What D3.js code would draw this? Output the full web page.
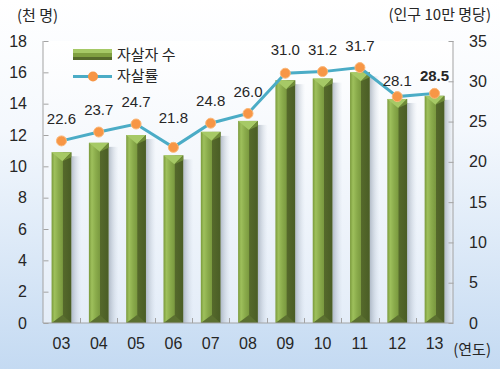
<!DOCTYPE html>
<html>
<head>
<meta charset="utf-8">
<script src="https://cdn.jsdelivr.net/npm/d3@7"></script>
<style>
  html, body { margin: 0; padding: 0; overflow: hidden; }
  svg { display: block; overflow: visible; }
  svg text { font-family: "Liberation Sans", Arial, "Noto Sans CJK KR", sans-serif; fill: #262626; }
  .kr { font-family: "Noto Sans CJK KR", "Liberation Sans", sans-serif; }
</style>
</head>
<body>
<svg id="chart" width="500" height="369"></svg>
<script>
const years = ["03", "04", "05", "06", "07", "08", "09", "10", "11", "12", "13"];
const suicides = [10.9, 11.5, 12.0, 10.7, 12.2, 12.9, 15.5, 15.6, 16.0, 14.3, 14.5]; // thousand persons
const rates = [22.6, 23.7, 24.7, 21.8, 24.8, 26.0, 31.0, 31.2, 31.7, 28.1, 28.5];   // per 100k
const leftTicks = [0, 2, 4, 6, 8, 10, 12, 14, 16, 18];
const rightTicks = [0, 5, 10, 15, 20, 25, 30, 35];
// small nudges for the value labels (px above the point)
const labelLift = [22, 22, 22, 30, 22, 22, 23, 22, 22, 16, 18];

const svg = d3.select("#chart");
const width = +svg.attr("width");
const height = +svg.attr("height");
const margin = { top: 41, right: 47, bottom: 46, left: 43 };
const innerWidth = width - margin.left - margin.right;
const innerHeight = height - margin.top - margin.bottom;

const defs = svg.append("defs");

const bgGrad = defs.append("linearGradient").attr("id", "bg").attr("x1", 0).attr("y1", 0).attr("x2", 0).attr("y2", 1);
bgGrad.append("stop").attr("offset", "0%").attr("stop-color", "#ffffff");
bgGrad.append("stop").attr("offset", "35%").attr("stop-color", "#f4f8fd");
bgGrad.append("stop").attr("offset", "100%").attr("stop-color", "#c4daf2");

const plotGrad = defs.append("linearGradient").attr("id", "plotbg").attr("x1", 0).attr("y1", 0).attr("x2", 0).attr("y2", 1);
plotGrad.append("stop").attr("offset", "0%").attr("stop-color", "#ffffff");
plotGrad.append("stop").attr("offset", "100%").attr("stop-color", "#e4edf8");

const barGrad = defs.append("linearGradient").attr("id", "bar").attr("x1", 0).attr("y1", 0).attr("x2", 1).attr("y2", 0);
[["0%", "#7a9a3c"], ["15%", "#9ec05c"], ["35%", "#8aab4b"], ["55%", "#7b9a40"], ["58%", "#55692b"], ["100%", "#4a5d25"]]
  .forEach(([o, c]) => barGrad.append("stop").attr("offset", o).attr("stop-color", c));

const shadowGrad = defs.append("linearGradient").attr("id", "shadow").attr("x1", 0).attr("y1", 0).attr("x2", 1).attr("y2", 0);
shadowGrad.append("stop").attr("offset", "0%").attr("stop-color", "#8a96a6").attr("stop-opacity", 0.6);
shadowGrad.append("stop").attr("offset", "100%").attr("stop-color", "#c8d2de").attr("stop-opacity", 0);

svg.append("rect").attr("width", width).attr("height", height).attr("fill", "url(#bg)");

const g = svg.append("g").attr("transform", `translate(${margin.left},${margin.top})`);

g.append("rect").attr("width", innerWidth).attr("height", innerHeight).attr("fill", "url(#plotbg)");

const x = d3.scaleBand().domain(years).range([0, innerWidth]).paddingInner(0.47).paddingOuter(0.23);
const yL = d3.scaleLinear().domain([0, 18]).range([innerHeight, 0]);
const yR = d3.scaleLinear().domain([0, 35]).range([innerHeight, 0]);
const step = x.step();

// bars
const bw = x.bandwidth();
const bars = g.selectAll(".bar").data(years.map((yr, i) => ({ yr, v: suicides[i] }))).join("g").attr("class", "bar");

bars.append("rect")
  .attr("x", d => x(d.yr) + bw)
  .attr("y", d => yL(d.v) + 4)
  .attr("width", 10)
  .attr("height", d => innerHeight - yL(d.v) - 4)
  .attr("fill", "url(#shadow)");

bars.append("rect")
  .attr("x", d => x(d.yr))
  .attr("y", d => yL(d.v))
  .attr("width", bw)
  .attr("height", d => innerHeight - yL(d.v))
  .attr("fill", "url(#bar)");

// top bevel
bars.append("path")
  .attr("d", d => {
    const x0 = x(d.yr), x1 = x0 + bw, t = yL(d.v);
    return `M${x0},${t}L${x1},${t}L${x0 + bw * 0.55},${t + 9}Z`;
  })
  .attr("fill", "#a6c966");
bars.append("path")
  .attr("d", d => {
    const x0 = x(d.yr), x1 = x0 + bw, t = yL(d.v);
    return `M${x1},${t}L${x1},${t + 5}L${x0 + bw * 0.55},${t + 9}Z`;
  })
  .attr("fill", "#6f8c38");

// bottom bevel
bars.append("path")
  .attr("d", d => {
    const x0 = x(d.yr), x1 = x0 + bw, b = innerHeight;
    return `M${x0},${b}L${x1},${b}L${x0 + bw * 0.55},${b - 8}Z`;
  })
  .attr("fill", "#5b7030");

// axes
const axisColor = "#a3a3a3";
g.append("line").attr("x1", 0).attr("x2", 0).attr("y1", 0).attr("y2", innerHeight).attr("stroke", axisColor);
g.append("line").attr("x1", innerWidth).attr("x2", innerWidth).attr("y1", 0).attr("y2", innerHeight).attr("stroke", axisColor);
g.append("line").attr("x1", 0).attr("x2", innerWidth).attr("y1", innerHeight).attr("y2", innerHeight).attr("stroke", axisColor);

const leftAxis = g.append("g").call(d3.axisLeft(yL).tickValues(leftTicks).tickSize(-5).tickPadding(16));
const rightAxis = g.append("g").attr("transform", `translate(${innerWidth},0)`)
  .call(d3.axisRight(yR).tickValues(rightTicks).tickSize(-5).tickPadding(16));
const xAxis = g.append("g").attr("transform", `translate(0,${innerHeight})`)
  .call(d3.axisBottom(x).tickSize(0).tickPadding(15));

[leftAxis, rightAxis, xAxis].forEach(a => {
  a.select(".domain").remove();
  a.selectAll(".tick line").attr("stroke", axisColor).attr("transform", "translate(0.5,0)");
  a.selectAll("text").attr("font-size", 16).attr("font-family", null).attr("fill", "#262626");
});

// x separators pointing up
g.selectAll(".sep").data(years.slice(1)).join("line")
  .attr("x1", d => Math.round(x(d) - (step - bw) / 2) + 0.5)
  .attr("x2", d => Math.round(x(d) - (step - bw) / 2) + 0.5)
  .attr("y1", innerHeight).attr("y2", innerHeight - 5)
  .attr("stroke", axisColor);

// rate line
const pts = years.map((yr, i) => ({ yr, v: rates[i], lift: labelLift[i], last: i === years.length - 1 }));
const cx = d => x(d.yr) + bw / 2;

g.append("path").datum(pts)
  .attr("fill", "none")
  .attr("stroke", "#4bacc6")
  .attr("stroke-width", 3)
  .attr("d", d3.line().x(cx).y(d => yR(d.v)));

g.selectAll(".pt").data(pts).join("circle")
  .attr("cx", cx).attr("cy", d => yR(d.v)).attr("r", 5)
  .attr("fill", "#f79646").attr("stroke", "#fbb878").attr("stroke-width", 1);

g.selectAll(".lbl").data(pts).join("text")
  .attr("x", cx).attr("y", d => yR(d.v) - d.lift).attr("dy", "0.35em")
  .attr("text-anchor", "middle")
  .attr("font-size", 15)
  .attr("font-weight", d => d.last ? "bold" : "normal")
  .text(d => d.v.toFixed(1));

// legend
const lg = svg.append("g").attr("transform", "translate(73,49)");
lg.append("rect").attr("x", 0).attr("y", 0).attr("width", 39).attr("height", 11).attr("fill", "#7f9f40");
lg.append("rect").attr("x", 0).attr("y", 0).attr("width", 39).attr("height", 4).attr("fill", "#a6c966");
lg.append("rect").attr("x", 0).attr("y", 8).attr("width", 39).attr("height", 3).attr("fill", "#55692b");
lg.append("text").attr("class", "kr").attr("x", 44).attr("y", 6).attr("dy", "0.35em")
  .attr("font-size", 15).text("자살자 수");
lg.append("line").attr("x1", 0).attr("x2", 39).attr("y1", 27.5).attr("y2", 27.5)
  .attr("stroke", "#4bacc6").attr("stroke-width", 3);
lg.append("circle").attr("cx", 20).attr("cy", 27.5).attr("r", 5).attr("fill", "#f79646");
lg.append("text").attr("class", "kr").attr("x", 44).attr("y", 27).attr("dy", "0.35em")
  .attr("font-size", 15).text("자살률");

// unit labels
svg.append("text").attr("class", "kr").attr("x", 17).attr("y", 16).attr("dy", "0.35em")
  .attr("font-size", 15).text("(천 명)");
svg.append("text").attr("class", "kr").attr("x", 491).attr("y", 15).attr("dy", "0.35em")
  .attr("text-anchor", "end").attr("font-size", 15).text("(인구 10만 명당)");
svg.append("text").attr("class", "kr").attr("x", 491).attr("y", 350).attr("dy", "0.35em")
  .attr("text-anchor", "end").attr("font-size", 15).text("(연도)");
</script>
</body>
</html>
